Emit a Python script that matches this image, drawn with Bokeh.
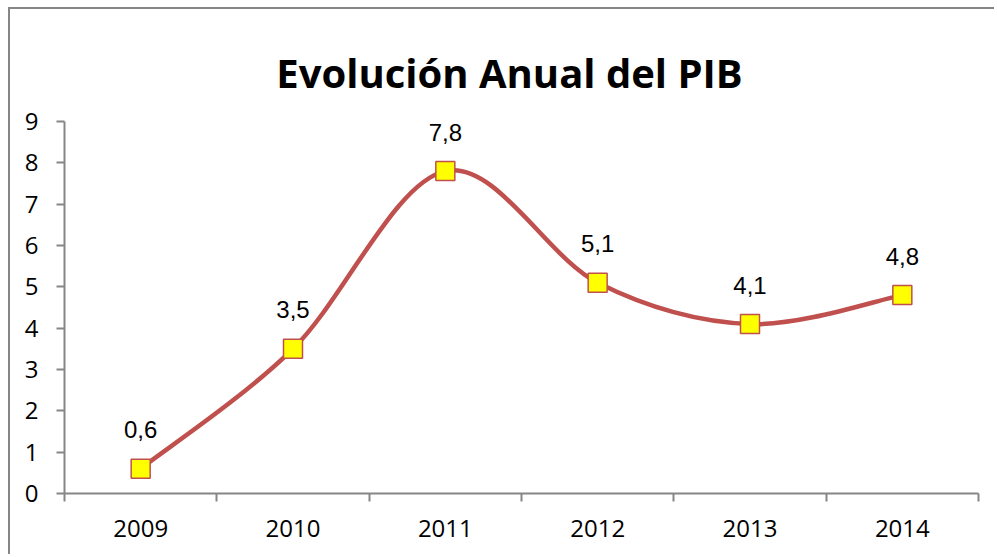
from bokeh.plotting import figure
from bokeh.models import Range1d, FixedTicker, ColumnDataSource, Label
from bokeh.core.properties import value
from bokeh.embed import file_html
from bokeh.resources import INLINE

years = ["2009", "2010", "2011", "2012", "2013", "2014"]
pib = [0.6, 3.5, 7.8, 5.1, 4.1, 4.8]
y_ticks = [0, 1, 2, 3, 4, 5, 6, 7, 8, 9]
title_text = "Evolución Anual del PIB"

LINE = "#C0504D"
AXIS = "#868686"

n = len(years)
xs = [i + 0.5 for i in range(n)]
labels = [f"{v:.1f}".replace(".", ",") for v in pib]

W, H = 986, 547
Y_TOP = 11.71  # frame extends above the axis so the title can sit inside it
p = figure(width=W, height=H, output_backend="svg", toolbar_location=None,
           x_range=Range1d(0, n), y_range=Range1d(0, Y_TOP),
           min_border_left=54, min_border_right=18, min_border_top=0,
           min_border_bottom=63)
p.title.visible = False
p.margin = (7, 0, 0, 8)
p.styles = {"border-left": f"2px solid {AXIS}", "border-top": f"2px solid {AXIS}"}
p.outline_line_color = None
p.background_fill_color = "white"
p.border_fill_color = "white"
p.xgrid.visible = False
p.ygrid.visible = False

# title placed in screen units (relative to the plot frame)
p.add_layout(Label(x=445, y=421, x_units="screen", y_units="screen",
                   text=title_text, text_align="center", text_baseline="alphabetic",
                   text_font="Open Sans", text_font_style="bold",
                   text_font_size="40px", text_color="black"))

# x axis: labels centred on categories, ticks between categories
xa = p.xaxis[0]
xa.ticker = FixedTicker(ticks=xs, minor_ticks=list(range(n + 1)))
xa.major_label_overrides = {x: y for x, y in zip(xs, years)}
xa.major_tick_out = 0
xa.major_tick_in = 0
xa.minor_tick_out = 8
xa.minor_tick_in = 0
xa.minor_tick_line_color = AXIS
xa.minor_tick_line_width = 2
xa.axis_line_color = AXIS
xa.axis_line_width = 2
xa.major_label_text_font = "Open Sans"
xa.major_label_text_font_size = "24px"
xa.major_label_text_color = "black"
xa.major_label_standoff = 18

ya = p.yaxis[0]
ya.ticker = FixedTicker(ticks=y_ticks, minor_ticks=[])
ya.bounds = (y_ticks[0], y_ticks[-1])
ya.major_tick_out = 8
ya.major_tick_in = 0
ya.major_tick_line_color = AXIS
ya.major_tick_line_width = 2
ya.axis_line_color = AXIS
ya.axis_line_width = 2
ya.major_label_text_font = "Open Sans"
ya.major_label_text_font_size = "24px"
ya.major_label_text_color = "black"
ya.major_label_standoff = 18

# smooth curve (cubic Bezier through the points, Catmull-Rom style tangents)
px = [xs[0]] + xs + [xs[-1]]
py = [pib[0]] + pib + [pib[-1]]
seg = dict(x0=[], y0=[], x1=[], y1=[], cx0=[], cy0=[], cx1=[], cy1=[])
for i in range(1, n):
    a, b = i, i + 1
    seg["x0"].append(px[a]); seg["y0"].append(py[a])
    seg["x1"].append(px[b]); seg["y1"].append(py[b])
    seg["cx0"].append(px[a] + (px[b] - px[a - 1]) / 6)
    seg["cy0"].append(py[a] + (py[b] - py[a - 1]) / 6)
    seg["cx1"].append(px[b] - (px[b + 1] - px[a]) / 6)
    seg["cy1"].append(py[b] - (py[b + 1] - py[a]) / 6)
p.bezier(source=ColumnDataSource(seg), x0="x0", y0="y0", x1="x1", y1="y1",
         cx0="cx0", cy0="cy0", cx1="cx1", cy1="cy1",
         line_color=LINE, line_width=4.5, line_cap="round")

src = ColumnDataSource(dict(x=xs, y=pib, lab=labels))
p.scatter("x", "y", source=src, marker="square", size=19,
          fill_color="#FFFF00", line_color=LINE, line_width=1.5)
p.text("x", "y", text="lab", source=src, text_align="center",
       text_baseline="alphabetic", y_offset=-39,
       text_font=value("Liberation Sans"), text_font_size="24px",
       text_color="black")

open("out.html", "w").write(file_html(p, INLINE))
